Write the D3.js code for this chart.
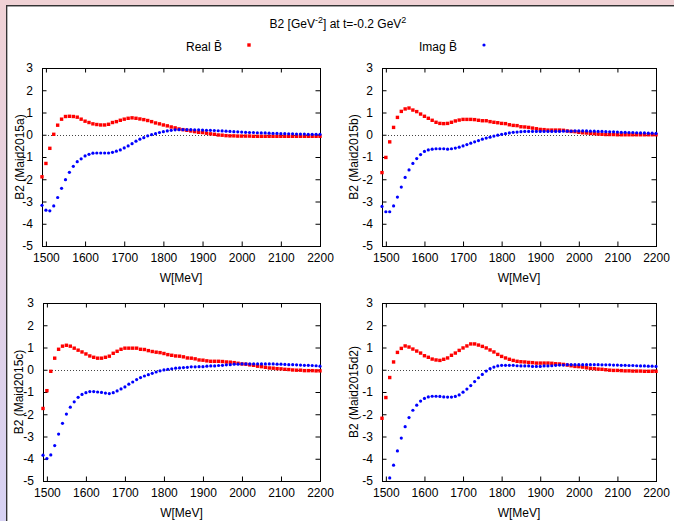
<!DOCTYPE html>
<html>
<head>
<meta charset="utf-8">
<script src="https://cdn.jsdelivr.net/npm/d3@7"></script>
<style>
  html, body { margin: 0; padding: 0; background: #fff; }
  svg { display: block; }
  text { font-family: "Liberation Sans", Arial, Helvetica, sans-serif; }
</style>
</head>
<body>
<svg id="chart" width="674" height="521"></svg>
<script>
// Energy grid W [MeV]
const W = [1490,1500,1510,1520,1530,1540,1550,1560,1570,1580,1590,1600,1610,1620,1630,1640,1650,1660,1670,1680,
  1690,1700,1710,1720,1730,1740,1750,1760,1770,1780,1790,1800,1810,1820,1830,1840,1850,1860,1870,1880,
  1890,1900,1910,1920,1930,1940,1950,1960,1970,1980,1990,2000,2010,2020,2030,2040,2050,2060,2070,2080,
  2090,2100,2110,2120,2130,2140,2150,2160,2170,2180,2190,2200];

// Maid2015a
const realA = [-1.89,-1.29,-0.61,0.02,0.43,0.70,0.82,0.83,0.82,0.79,0.70,0.61,0.55,0.49,0.46,0.44,0.44,0.47,0.55,0.59,
  0.65,0.70,0.74,0.76,0.74,0.71,0.68,0.64,0.59,0.53,0.49,0.44,0.40,0.35,0.31,0.26,0.23,0.20,0.17,0.14,
  0.11,0.10,0.07,0.04,0.02,-0.01,-0.02,-0.04,-0.05,-0.05,-0.06,-0.06,-0.06,-0.06,-0.07,-0.07,-0.07,-0.07,-0.07,-0.07,
  -0.07,-0.07,-0.07,-0.07,-0.07,-0.07,-0.07,-0.07,-0.07,-0.07,-0.07,-0.07];
const imagA = [-3.17,-3.39,-3.42,-3.20,-2.82,-2.41,-2.02,-1.69,-1.42,-1.21,-1.08,-0.95,-0.88,-0.83,-0.82,-0.82,-0.82,-0.82,-0.79,-0.74,
  -0.68,-0.59,-0.50,-0.40,-0.29,-0.20,-0.13,-0.05,0.01,0.05,0.10,0.14,0.17,0.20,0.22,0.23,0.23,0.23,0.23,0.22,
  0.22,0.21,0.20,0.20,0.19,0.18,0.17,0.16,0.15,0.14,0.13,0.12,0.11,0.10,0.10,0.09,0.08,0.08,0.07,0.06,
  0.06,0.05,0.05,0.04,0.04,0.03,0.03,0.03,0.02,0.02,0.02,0.02];

// Maid2015b
const realB = [-1.70,-1.02,-0.32,0.33,0.78,1.05,1.16,1.20,1.11,1.04,0.93,0.83,0.74,0.65,0.56,0.51,0.50,0.51,0.56,0.62,
  0.66,0.69,0.69,0.69,0.68,0.65,0.63,0.63,0.59,0.56,0.54,0.51,0.50,0.45,0.42,0.41,0.36,0.35,0.33,0.30,
  0.27,0.24,0.23,0.21,0.21,0.21,0.21,0.20,0.17,0.15,0.14,0.11,0.09,0.08,0.06,0.05,0.03,0.02,0.01,0.01,
  0.01,0.00,0.00,0.00,0.00,0.00,0.00,0.00,0.00,0.00,0.00,0.00];
const imagB = [-3.22,-3.46,-3.46,-3.20,-2.80,-2.35,-1.92,-1.58,-1.29,-1.07,-0.89,-0.75,-0.68,-0.65,-0.63,-0.63,-0.63,-0.65,-0.63,-0.60,
  -0.56,-0.50,-0.44,-0.38,-0.32,-0.26,-0.20,-0.15,-0.11,-0.06,-0.02,0.02,0.05,0.08,0.11,0.12,0.14,0.15,0.15,0.15,
  0.15,0.15,0.15,0.15,0.15,0.15,0.15,0.16,0.16,0.16,0.17,0.17,0.17,0.17,0.16,0.16,0.15,0.15,0.14,0.13,
  0.13,0.12,0.11,0.11,0.10,0.10,0.09,0.08,0.08,0.07,0.07,0.06];

// Maid2015c
const realC = [-1.74,-0.94,-0.07,0.52,0.92,1.06,1.10,1.06,0.97,0.88,0.80,0.71,0.62,0.56,0.52,0.52,0.56,0.61,0.74,0.83,
  0.92,0.97,0.97,0.97,0.97,0.92,0.91,0.86,0.82,0.79,0.77,0.73,0.68,0.65,0.62,0.61,0.58,0.53,0.52,0.49,
  0.44,0.43,0.40,0.38,0.38,0.38,0.37,0.35,0.34,0.32,0.29,0.26,0.25,0.22,0.20,0.16,0.14,0.11,0.08,0.07,
  0.05,0.04,0.02,0.01,-0.01,-0.02,-0.02,-0.04,-0.04,-0.04,-0.05,-0.05];
const imagC = [-3.84,-3.99,-3.83,-3.41,-2.89,-2.41,-1.99,-1.68,-1.44,-1.24,-1.11,-1.03,-0.98,-0.98,-1.00,-1.02,-1.05,-1.07,-1.03,-0.95,
  -0.86,-0.77,-0.65,-0.55,-0.44,-0.35,-0.28,-0.22,-0.16,-0.10,-0.05,-0.01,0.02,0.04,0.07,0.08,0.10,0.11,0.13,0.13,
  0.14,0.14,0.16,0.17,0.17,0.19,0.20,0.22,0.23,0.25,0.25,0.26,0.26,0.26,0.26,0.26,0.26,0.26,0.26,0.26,
  0.25,0.25,0.24,0.23,0.23,0.22,0.21,0.20,0.20,0.19,0.18,0.16];

// Maid2015d2
const realD = [-2.18,-1.25,-0.35,0.35,0.78,0.96,1.07,1.02,0.93,0.84,0.75,0.63,0.56,0.48,0.44,0.42,0.47,0.53,0.65,0.75,
  0.87,0.98,1.07,1.16,1.16,1.11,1.05,0.98,0.89,0.80,0.69,0.60,0.53,0.47,0.42,0.38,0.36,0.35,0.33,0.32,
  0.30,0.30,0.30,0.30,0.29,0.27,0.26,0.24,0.21,0.18,0.15,0.14,0.12,0.09,0.06,0.05,0.03,0.02,0.00,-0.02,
  -0.03,-0.03,-0.04,-0.05,-0.05,-0.06,-0.06,-0.06,-0.07,-0.07,-0.07,-0.07];
const imagD = [-5.20,-5.40,-4.86,-4.29,-3.65,-3.07,-2.56,-2.15,-1.82,-1.59,-1.41,-1.29,-1.22,-1.19,-1.19,-1.20,-1.22,-1.23,-1.23,-1.20,
  -1.13,-1.01,-0.87,-0.71,-0.53,-0.36,-0.21,-0.06,0.05,0.12,0.17,0.20,0.20,0.20,0.20,0.18,0.17,0.17,0.17,0.15,
  0.15,0.15,0.17,0.17,0.18,0.20,0.21,0.21,0.23,0.23,0.23,0.23,0.23,0.23,0.23,0.23,0.23,0.22,0.22,0.22,
  0.21,0.21,0.20,0.20,0.19,0.19,0.18,0.17,0.17,0.16,0.16,0.15];

const modelNames = ["Maid2015a", "Maid2015b", "Maid2015c", "Maid2015d2"];
const xTicks = [1500, 1600, 1700, 1800, 1900, 2000, 2100, 2200];
const yTicks = [-5, -4, -3, -2, -1, 0, 1, 2, 3];
const xDomain = [1490, 2200];
const yDomain = [-5, 3];

const svg = d3.select("#chart");
const FONT = 12;

// window background and frame
const defs = svg.append("defs");
const grad = defs.append("linearGradient").attr("id", "edgeGrad")
  .attr("x1", 0).attr("y1", 0).attr("x2", 0).attr("y2", 1);
grad.append("stop").attr("offset", 0).attr("stop-color", "#f0d2d5");
grad.append("stop").attr("offset", 1).attr("stop-color", "#d7d2f3");
svg.append("rect").attr("width", 674).attr("height", 521).attr("fill", "url(#edgeGrad)");
svg.append("rect").attr("width", 674).attr("height", 6).attr("fill", "#f0d2d5");
svg.append("rect").attr("x", 6).attr("y", 5).attr("width", 668).attr("height", 516).attr("fill", "#333");
svg.append("rect").attr("x", 7).attr("y", 6.4).attr("width", 667).attr("height", 515).attr("fill", "#888");
svg.append("rect").attr("x", 7.6).attr("y", 6.6).attr("width", 667).attr("height", 515).attr("fill", "#fff");

// title
const title = svg.append("text").attr("x", 338).attr("y", 28).attr("text-anchor", "middle")
  .attr("font-size", FONT).attr("fill", "#000");
title.append("tspan").text("B2 [GeV");
title.append("tspan").attr("dy", -5).attr("font-size", 9).text("-2");
title.append("tspan").attr("dy", 5).text("] at t=-0.2 GeV");
title.append("tspan").attr("dy", -5).attr("font-size", 9).text("2");

// legend
const legend = svg.append("g").attr("font-size", FONT);
legend.append("text").attr("x", 222).attr("y", 51).attr("text-anchor", "end").text("Real B\u0304");
legend.append("rect").attr("x", 249 - 1.7).attr("y", 45 - 1.7).attr("width", 3.4).attr("height", 3.4).attr("fill", "#ff0000");
legend.append("text").attr("x", 457).attr("y", 51).attr("text-anchor", "end").text("Imag B\u0304");
legend.append("circle").attr("cx", 484).attr("cy", 45).attr("r", 1.6).attr("fill", "#0000ff");

const panels = [
  { name: modelNames[0], real: realA, imag: imagA, x0: 42, x1: 320, y0: 68, y1: 246, lx: 19.5 },
  { name: modelNames[1], real: realB, imag: imagB, x0: 382, x1: 656, y0: 68, y1: 246, lx: 354 },
  { name: modelNames[2], real: realC, imag: imagC, x0: 43, x1: 320, y0: 303, y1: 481, lx: 18.5 },
  { name: modelNames[3], real: realD, imag: imagD, x0: 382, x1: 656, y0: 303, y1: 481, lx: 354 }
];

const TICK = 4.5;

panels.forEach((p, i) => {
  const x = d3.scaleLinear().domain(xDomain).range([p.x0, p.x1]);
  const y = d3.scaleLinear().domain(yDomain).range([p.y1, p.y0]);
  const g = svg.append("g").attr("font-size", FONT);

  const styleAxis = sel => {
    sel.select(".domain").remove();
    sel.selectAll(".tick line").attr("stroke", "#000");
    sel.selectAll(".tick text").attr("fill", "#000")
      .attr("font-family", "\"Liberation Sans\", Arial, sans-serif").attr("font-size", FONT);
  };

  g.append("g").attr("transform", `translate(0,${p.y1})`)
    .call(d3.axisBottom(x).tickValues(xTicks).tickSize(-TICK).tickPadding(7.5).tickFormat(d => String(d)))
    .call(styleAxis);
  g.append("g").attr("transform", `translate(0,${p.y0})`)
    .call(d3.axisTop(x).tickValues(xTicks).tickSize(-TICK).tickFormat(""))
    .call(styleAxis);
  g.append("g").attr("transform", `translate(${p.x0},0)`)
    .call(d3.axisLeft(y).tickValues(yTicks).tickSize(-TICK).tickPadding(9).tickFormat(d => String(d)))
    .call(styleAxis);
  g.append("g").attr("transform", `translate(${p.x1},0)`)
    .call(d3.axisRight(y).tickValues(yTicks).tickSize(-TICK).tickFormat(""))
    .call(styleAxis);

  // zero axis
  g.append("line")
    .attr("x1", p.x0).attr("x2", p.x1)
    .attr("y1", Math.round(y(0)) + 0.5).attr("y2", Math.round(y(0)) + 0.5)
    .attr("stroke", "#444").attr("stroke-width", 1).attr("stroke-dasharray", "1,2");

  // plot border
  g.append("rect")
    .attr("x", p.x0 + 0.5).attr("y", p.y0 + 0.5)
    .attr("width", p.x1 - p.x0).attr("height", p.y1 - p.y0)
    .attr("fill", "none").attr("stroke", "#000").attr("stroke-width", 1);

  const inRange = v => v >= yDomain[0] && v <= yDomain[1];
  const realPts = W.map((w, k) => ({ w, v: p.real[k] })).filter(d => inRange(d.v));
  const imagPts = W.map((w, k) => ({ w, v: p.imag[k] })).filter(d => inRange(d.v));

  g.append("g").selectAll("rect").data(realPts).join("rect")
    .attr("x", d => x(d.w) - 1.7).attr("y", d => y(d.v) - 1.7)
    .attr("width", 3.4).attr("height", 3.4).attr("fill", "#ff0000");
  g.append("g").selectAll("circle").data(imagPts).join("circle")
    .attr("cx", d => x(d.w)).attr("cy", d => y(d.v)).attr("r", 1.6).attr("fill", "#0000ff");

  // axis titles
  g.append("text").attr("x", (p.x0 + p.x1) / 2).attr("y", p.y1 + 36)
    .attr("text-anchor", "middle").text("W[MeV]");
  g.append("text")
    .attr("transform", `translate(${p.lx},${(p.y0 + p.y1) / 2}) rotate(-90)`)
    .attr("text-anchor", "middle").attr("dy", "0.35em")
    .text(`B2 (${p.name})`);
});
</script>
</body>
</html>
